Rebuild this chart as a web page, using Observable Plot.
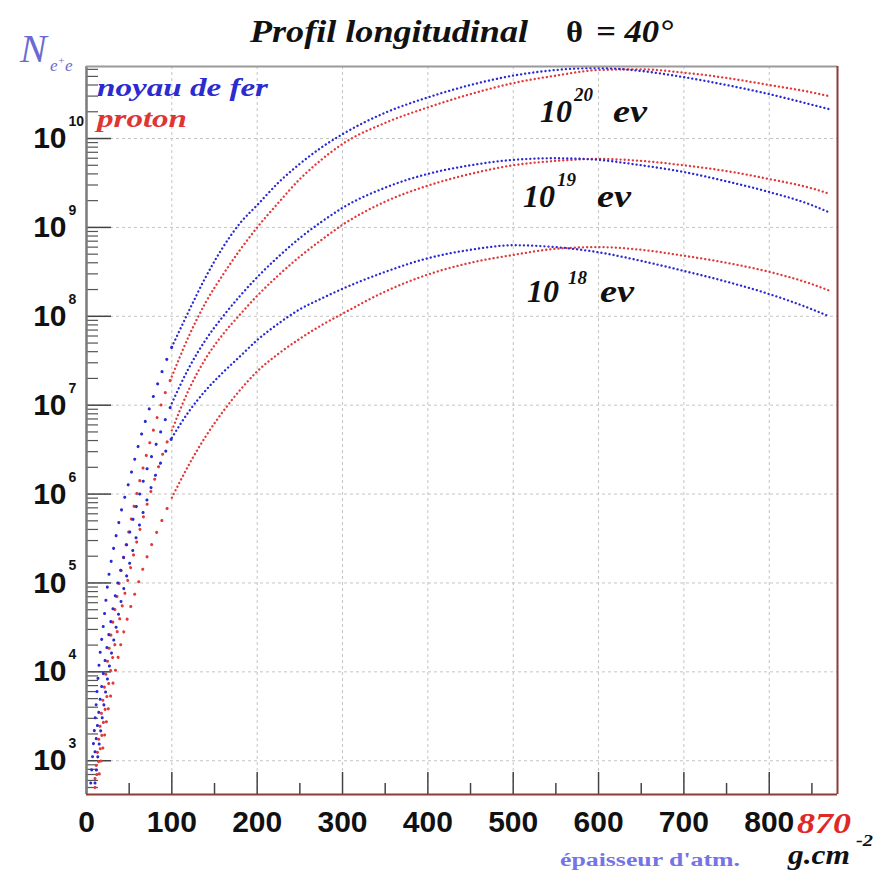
<!DOCTYPE html>
<html><head><meta charset="utf-8">
<script src="https://cdn.jsdelivr.net/npm/d3@7"></script>
<script src="https://cdn.jsdelivr.net/npm/@observablehq/plot@0.6"></script>
<style>
body{margin:0;background:#fff}
#wrap{position:relative;width:888px;height:872px;overflow:hidden;background:#fff}
#ann{position:absolute;left:0;top:0;pointer-events:none}
</style></head><body>
<div id="wrap"></div>
<script>
// atmospheric depth (g/cm^2)
const depth = [5,10,15,20,25,30,35,40,50,60,70,80,90,100,120,140,160,180,200,225,250,275,300,350,400,450,500,550,600,650,700,750,800,850,870];
// number of e+e-
const fer20 = [5.6e2,2.8e3,1.3e4,3.5e4,1.0e5,2.0e5,3.5e5,6.0e5,1.4e6,3.3e6,7.1e6,1.4e7,2.6e7,4.5e7,1.15e8,2.8e8,6.0e8,1.12e9,1.78e9,3.2e9,5.2e9,7.9e9,1.12e10,1.95e10,2.9e10,4.0e10,5.1e10,5.9e10,6.2e10,5.75e10,4.9e10,4.0e10,3.16e10,2.4e10,2.14e10];
const proton20 = [null,6.3e2,2.0e3,5.6e3,1.4e4,3.2e4,6.3e4,1.26e5,4.0e5,1.12e6,2.7e6,5.9e6,1.2e7,2.1e7,6.0e7,1.45e8,2.95e8,5.6e8,1.0e9,1.9e9,3.5e9,5.75e9,8.7e9,1.5e10,2.24e10,3.16e10,4.2e10,5.1e10,5.9e10,6.0e10,5.5e10,4.8e10,4.0e10,3.3e10,3.0e10];
const fer19 = [null,1.26e3,4.0e3,1.0e4,2.2e4,4.5e4,8.3e4,1.4e5,3.5e5,8.3e5,1.8e6,3.3e6,6.0e6,1.05e7,2.63e7,5.5e7,1.0e8,1.7e8,2.75e8,4.7e8,7.6e8,1.15e9,1.66e9,2.8e9,4.0e9,5.0e9,5.75e9,6.0e9,5.75e9,5.0e9,4.2e9,3.3e9,2.5e9,1.78e9,1.48e9];
const proton19 = [null,5.0e2,1.12e3,2.8e3,6.3e3,1.32e4,2.5e4,4.5e4,1.26e5,3.2e5,7.1e5,1.48e6,2.95e6,5.2e6,1.5e7,3.4e7,6.3e7,1.05e8,1.7e8,2.9e8,4.7e8,7.2e8,1.07e9,1.95e9,2.95e9,4.0e9,5.0e9,5.6e9,5.9e9,5.6e9,5.0e9,4.3e9,3.5e9,2.75e9,2.4e9];
const fer18 = [null,5.6e2,1.58e3,4.0e3,8.9e3,1.78e4,3.3e4,5.9e4,1.58e5,3.8e5,8.1e5,1.55e6,2.63e6,4.3e6,8.5e6,1.48e7,2.34e7,3.55e7,5.4e7,8.3e7,1.2e8,1.58e8,2.04e8,3.16e8,4.5e8,5.6e8,6.3e8,6.0e8,5.25e8,4.2e8,3.24e8,2.45e8,1.78e8,1.2e8,1.0e8];
const proton18 = [null,null,7.1e2,1.58e3,3.55e3,6.6e3,1.17e4,2.0e4,4.7e4,9.5e4,1.86e5,3.3e5,5.5e5,9.1e5,2.14e6,4.5e6,8.5e6,1.48e7,2.4e7,3.8e7,5.6e7,7.9e7,1.07e8,1.9e8,2.95e8,4.0e8,4.9e8,5.75e8,6.0e8,5.6e8,4.8e8,4.0e8,3.16e8,2.3e8,1.95e8];

const seriesNames = ["proton18","proton19","proton20","fer18","fer19","fer20"];
const seriesValues = [proton18,proton19,proton20,fer18,fer19,fer20];
const seriesColors = ["#e03a3a","#e03a3a","#e03a3a","#2a2ad2","#2a2ad2","#2a2ad2"];

const xMajorTicks = [0,100,200,300,400,500,600,700,800];
const xTickLabels = ["0","100","200","300","400","500","600","700","800"];
const xMinorTicks = [50,150,250,350,450,550,650,750,850];
const yDecades = [1e3,1e4,1e5,1e6,1e7,1e8,1e9,1e10];
const yExponents = ["3","4","5","6","7","8","9","10"];

const W = 888, H = 872, mL = 86, mR = 51, mT = 66, mB = 78;
const fw = W - mL - mR, fh = H - mT - mB;
const yTop = 6.46e10, yBot = 417;
const yMinorTicks = d3.range(2, 11).flatMap(k => d3.range(2, 10).map(m => m * 10 ** k)).filter(v => v > yBot && v < yTop);

const curveMarks = [];
seriesNames.forEach((name, s) => {
  const rows = depth.map((x, i) => ({depth: x, N: seriesValues[s][i]})).filter(d => d.N != null);
  // steep part: sparse dots
  curveMarks.push(Plot.line(rows.filter(d => d.depth <= 100), {x: "depth", y: "N", stroke: seriesColors[s], strokeWidth: 3, strokeLinecap: "round", strokeDasharray: "0.1,13", curve: "monotone-x"}));
  // flat part: dense dots
  curveMarks.push(Plot.line(rows.filter(d => d.depth >= 100), {x: "depth", y: "N", stroke: seriesColors[s], strokeWidth: 2.3, strokeLinecap: "round", strokeDasharray: "0.1,4", curve: "monotone-x"}));
});

const chart = Plot.plot({
  width: W, height: H,
  marginLeft: mL, marginRight: mR, marginTop: mT, marginBottom: mB,
  style: {background: "#fff", fontFamily: "'Liberation Sans', Arial, sans-serif", overflow: "visible"},
  x: {domain: [0, 880], axis: null},
  y: {type: "log", domain: [yBot, yTop], axis: null},
  marks: [
    Plot.ruleX(xMajorTicks.slice(1), {x: d => d, stroke: "#c4c4c4", strokeDasharray: "3,3"}),
    Plot.ruleY(yDecades, {y: d => d, stroke: "#c4c4c4", strokeDasharray: "3,3"}),
    Plot.tickX(xMajorTicks, {x: d => d, insetTop: fh - 22, stroke: "#444", strokeWidth: 1.5}),
    Plot.tickX(xMinorTicks, {x: d => d, insetTop: fh - 11, stroke: "#444", strokeWidth: 1.5}),
    Plot.tickY(yDecades, {y: d => d, insetRight: fw - 25, stroke: "#444", strokeWidth: 1.5}),
    Plot.tickY(yMinorTicks, {y: d => d, insetRight: fw - 12, stroke: "#555", strokeWidth: 1.2}),
    ...curveMarks,
    Plot.ruleX([0], {x: d => d, stroke: "#7a7a7a", strokeWidth: 2.5}),
    Plot.ruleY([yTop], {y: d => d, stroke: "#9a9a9a", strokeWidth: 2}),
    Plot.ruleX([880], {x: d => d, stroke: "#8c3a3a", strokeWidth: 2}),
    Plot.ruleY([yBot], {y: d => d, stroke: "#8c3a3a", strokeWidth: 2}),
    Plot.text(xMajorTicks, {x: d => d, text: (d, i) => xTickLabels[i], frameAnchor: "bottom", dy: 28, lineAnchor: "middle", fontSize: 30, fontWeight: "bold", fill: "#111"}),
    Plot.text(yDecades, {y: d => d, text: () => "10", frameAnchor: "left", dx: -20, textAnchor: "end", lineAnchor: "middle", fontSize: 30, fontWeight: "bold", fill: "#111"}),
    Plot.text(yDecades, {y: d => d, text: (d, i) => yExponents[i], frameAnchor: "left", dx: -18, dy: -17, textAnchor: "start", lineAnchor: "middle", fontSize: 14, fontWeight: "bold", fill: "#111"})
  ]
});
const wrap = document.getElementById("wrap");
wrap.appendChild(chart);

const SER = "'Liberation Serif','Times New Roman',serif";
const ann = `
<svg id="ann" xmlns="http://www.w3.org/2000/svg" width="888" height="872" font-family="${SER}">
  <text x="250" y="42" font-size="32" font-weight="bold" font-style="italic" fill="#111" textLength="278" lengthAdjust="spacingAndGlyphs">Profil longitudinal</text>
  <text x="566" y="42" font-size="30" font-weight="bold" fill="#111" textLength="17" lengthAdjust="spacingAndGlyphs">θ</text>
  <text x="596" y="42" font-size="32" font-weight="bold" font-style="italic" fill="#111" textLength="77" lengthAdjust="spacingAndGlyphs">= 40°</text>
  <text x="20" y="62" font-size="40" font-style="italic" fill="#6a6ad2">N</text>
  <text x="50" y="71" font-size="17" font-style="italic" fill="#6a6ad2">e<tspan dy="-7" font-size="11">+</tspan><tspan dy="7">e</tspan></text>
  <text x="97" y="96" font-size="26" font-weight="bold" font-style="italic" fill="#2b2bcf" textLength="171" lengthAdjust="spacingAndGlyphs">noyau de fer</text>
  <text x="97" y="127" font-size="26" font-weight="bold" font-style="italic" fill="#e03535" textLength="90" lengthAdjust="spacingAndGlyphs">proton</text>

  <text x="540" y="122" font-size="32" font-weight="bold" font-style="italic" fill="#111">10</text>
  <text x="574" y="101" font-size="19" font-weight="bold" font-style="italic" fill="#111">20</text>
  <text x="613" y="122" font-size="32" font-weight="bold" font-style="italic" fill="#111" textLength="34" lengthAdjust="spacingAndGlyphs">ev</text>

  <text x="523" y="207" font-size="32" font-weight="bold" font-style="italic" fill="#111">10</text>
  <text x="557" y="186" font-size="19" font-weight="bold" font-style="italic" fill="#111">19</text>
  <text x="597" y="207" font-size="32" font-weight="bold" font-style="italic" fill="#111" textLength="34" lengthAdjust="spacingAndGlyphs">ev</text>

  <text x="527" y="302" font-size="32" font-weight="bold" font-style="italic" fill="#111">10</text>
  <text x="568" y="284" font-size="19" font-weight="bold" font-style="italic" fill="#111">18</text>
  <text x="600" y="302" font-size="32" font-weight="bold" font-style="italic" fill="#111" textLength="34" lengthAdjust="spacingAndGlyphs">ev</text>

  <text x="797" y="833" font-size="30" font-weight="bold" font-style="italic" fill="#e02828" textLength="54" lengthAdjust="spacingAndGlyphs">870</text>
  <text x="788" y="864" font-size="28" font-weight="bold" font-style="italic" fill="#111" textLength="62" lengthAdjust="spacingAndGlyphs">g.cm</text>
  <text x="856" y="846" font-size="16" font-weight="bold" font-style="italic" fill="#111" textLength="17" lengthAdjust="spacingAndGlyphs">-2</text>
  <text x="560" y="866" font-size="18" font-weight="bold" fill="#7474e6" textLength="180" lengthAdjust="spacingAndGlyphs">épaisseur d'atm.</text>
</svg>`;
wrap.insertAdjacentHTML("beforeend", ann);
</script>
</body></html>
